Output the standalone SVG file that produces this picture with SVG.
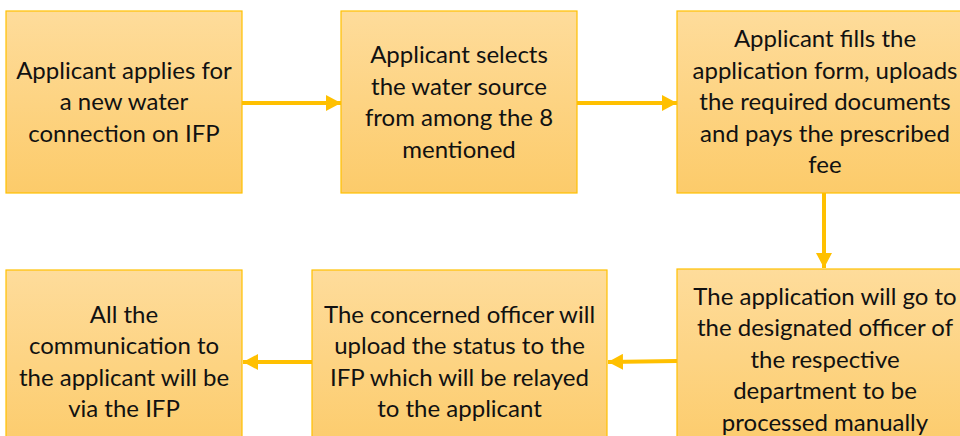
<svg xmlns="http://www.w3.org/2000/svg" width="960" height="436" viewBox="0 0 960 436">
<defs>
<linearGradient id="g" x1="0" y1="0" x2="0" y2="1">
<stop offset="0" stop-color="#FEDC9B"/>
<stop offset="1" stop-color="#FCCB6A"/>
</linearGradient>
<marker id="ah" markerWidth="16" markerHeight="16" refX="15" refY="8" markerUnits="userSpaceOnUse" orient="auto">
<path d="M0,0 L15,8 L0,16 Z" fill="#FFC000"/>
</marker>
<style>
.box{fill:url(#g);stroke:#FFC000;stroke-width:1.2}
.t{font-family:Lato,"Liberation Sans",sans-serif;font-size:24px;fill:#111;text-anchor:middle}
.c{stroke:#FFC000;stroke-width:4;fill:none;marker-end:url(#ah)}
</style>
</defs>
<rect width="960" height="436" fill="#fff"/>
<g id="n1">
<rect class="box" x="6" y="11" width="236" height="182"/>
<text class="t" x="124" y="79">Applicant applies for</text>
<text class="t" x="124" y="110">a new water</text>
<text class="t" x="124" y="142">connection on IFP</text>
</g>
<g id="n2">
<rect class="box" x="341" y="11" width="236" height="182"/>
<text class="t" x="459" y="63">Applicant selects</text>
<text class="t" x="459" y="95">the water source</text>
<text class="t" x="459" y="126">from among the 8</text>
<text class="t" x="459" y="158">mentioned</text>
</g>
<g id="n3">
<rect class="box" x="677" y="11" width="296" height="182"/>
<text class="t" x="825" y="47">Applicant fills the</text>
<text class="t" x="825" y="79">application form, uploads</text>
<text class="t" x="825" y="110">the required documents</text>
<text class="t" x="825" y="142">and pays the prescribed</text>
<text class="t" x="825" y="173">fee</text>
</g>
<g id="n4">
<rect class="box" x="677" y="269" width="296" height="186"/>
<text class="t" x="825" y="305">The application will go to</text>
<text class="t" x="825" y="336">the designated officer of</text>
<text class="t" x="825" y="368">the respective</text>
<text class="t" x="825" y="399">department to be</text>
<text class="t" x="825" y="431">processed manually</text>
</g>
<g id="n5">
<rect class="box" x="312" y="270" width="295" height="185"/>
<text class="t" x="459.5" y="323">The concerned officer will</text>
<text class="t" x="459.5" y="354">upload the status to the</text>
<text class="t" x="459.5" y="386">IFP which will be relayed</text>
<text class="t" x="459.5" y="417">to the applicant</text>
</g>
<g id="n6">
<rect class="box" x="6" y="270" width="236" height="185"/>
<text class="t" x="124" y="323">All the</text>
<text class="t" x="124" y="354">communication to</text>
<text class="t" x="124" y="386">the applicant will be</text>
<text class="t" x="124" y="417">via the IFP</text>
</g>
<g id="connectors">
<line class="c" x1="242" y1="103" x2="341" y2="103"/>
<line class="c" x1="577" y1="103" x2="677" y2="103"/>
<line class="c" x1="824" y1="193" x2="824" y2="268"/>
<line class="c" x1="677" y1="361" x2="608" y2="362"/>
<line class="c" x1="312" y1="362" x2="243" y2="362"/>
</g>
</svg>
